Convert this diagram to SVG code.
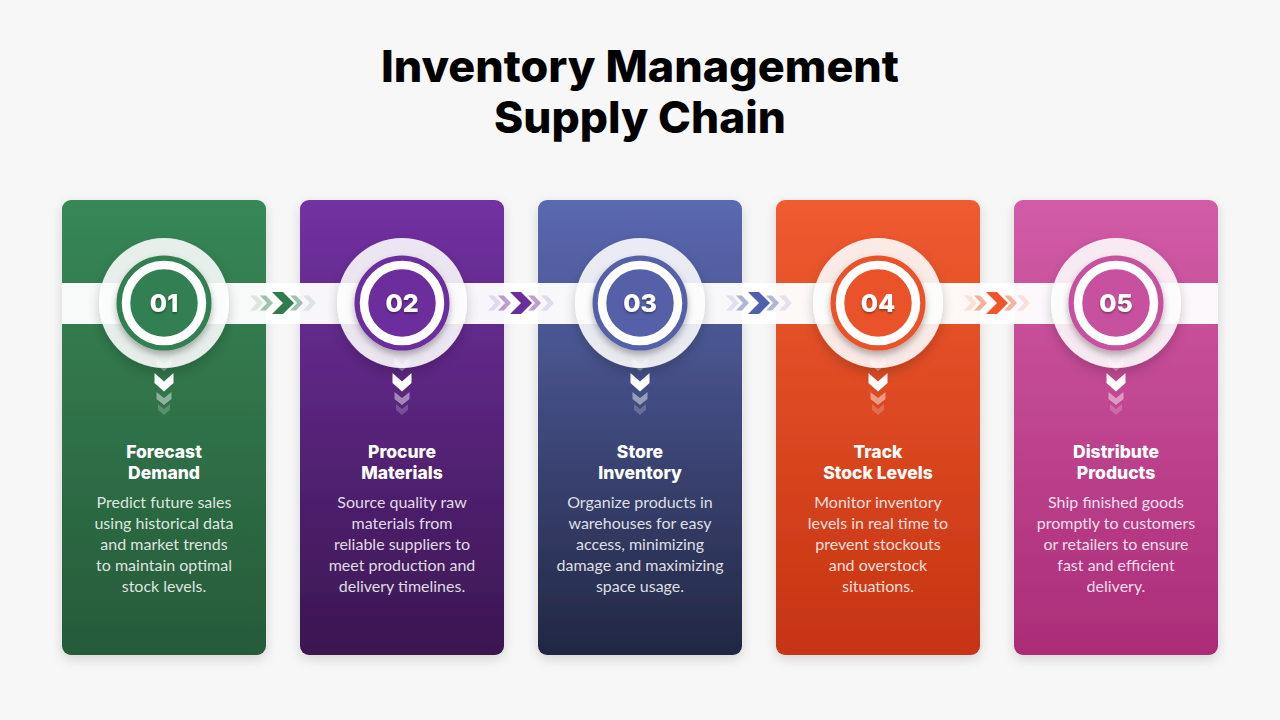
<svg xmlns="http://www.w3.org/2000/svg" xmlns:xlink="http://www.w3.org/1999/xlink" width="1280" height="720" viewBox="0 0 1280 720">
<defs>
<style>
.title{font-family:Inter,"Open Sans","Liberation Sans",sans-serif;font-weight:800;font-size:44px;fill:#000;text-anchor:middle}
.num{font-family:Inter,"Open Sans","Liberation Sans",sans-serif;font-weight:800;font-size:25px;fill:#fff;text-anchor:middle}
.head{font-family:Inter,"Open Sans","Liberation Sans",sans-serif;font-weight:800;font-size:17.5px;fill:#fff;text-anchor:middle}
.body{font-family:Lato,"Liberation Sans",sans-serif;font-size:16px;fill:#fff;fill-opacity:0.85;text-anchor:middle}
.band{fill:#fff;fill-opacity:0.96}
.outer{fill:#fff;fill-opacity:0.87}
.ring{fill:none;stroke:#fff;stroke-width:8.5}
</style>
<filter id="cardSh" x="-20%" y="-10%" width="140%" height="125%">
<feDropShadow dx="0" dy="4" stdDeviation="6" flood-color="#000" flood-opacity="0.14"/>
</filter>
<filter id="outSh" x="-30%" y="-30%" width="160%" height="170%">
<feDropShadow dx="0" dy="5" stdDeviation="6" flood-color="#000" flood-opacity="0.22"/>
</filter>
<filter id="inSh" x="-30%" y="-30%" width="160%" height="170%">
<feDropShadow dx="0" dy="4" stdDeviation="3.5" flood-color="#000" flood-opacity="0.3"/>
</filter>
<filter id="txtSh" x="-20%" y="-30%" width="140%" height="170%">
<feDropShadow dx="0" dy="1.5" stdDeviation="1" flood-color="#000" flood-opacity="0.4"/>
</filter>
<linearGradient id="g1" x1="0" y1="0" x2="0" y2="1"><stop offset="0" stop-color="#378757"/><stop offset="1" stop-color="#275a39"/></linearGradient>
<linearGradient id="g2" x1="0" y1="0" x2="0" y2="1"><stop offset="0" stop-color="#7231a2"/><stop offset="1" stop-color="#3a1650"/></linearGradient>
<linearGradient id="g3" x1="0" y1="0" x2="0" y2="1"><stop offset="0" stop-color="#5b69b2"/><stop offset="1" stop-color="#222743"/></linearGradient>
<linearGradient id="g4" x1="0" y1="0" x2="0" y2="1"><stop offset="0" stop-color="#f05b30"/><stop offset="1" stop-color="#c53412"/></linearGradient>
<linearGradient id="g5" x1="0" y1="0" x2="0" y2="1"><stop offset="0" stop-color="#d25ca7"/><stop offset="1" stop-color="#ab2c77"/></linearGradient>
<g id="hch">
<path d="M-33,-7.5 h6 l7,7.5 l-7,7.5 h-6 l7,-7.5z" fill-opacity="0.15"/>
<path d="M20,-7.5 h6 l7,7.5 l-7,7.5 h-6 l7,-7.5z" fill-opacity="0.15"/>
<path d="M-23,-7.5 h6 l7,7.5 l-7,7.5 h-6 l7,-7.5z" fill-opacity="0.45"/>
<path d="M7,-7.5 h6 l7,7.5 l-7,7.5 h-6 l7,-7.5z" fill-opacity="0.45"/>
<path d="M-11,-11 h11 l11,11 l-11,11 h-11 l11,-11z"/>
</g>
<g id="vch" fill="#fff">
<path d="M-7.5,358 l7.5,6 l7.5,-6 v7 l-7.5,6 l-7.5,-6z" fill-opacity="0.4"/>
<path d="M-9.5,373 l9.5,8.5 l9.5,-8.5 v10 l-9.5,8.5 l-9.5,-8.5z"/>
<path d="M-7.5,392 l7.5,6 l7.5,-6 v7 l-7.5,6 l-7.5,-6z" fill-opacity="0.45"/>
<path d="M-6,404 l6,5 l6,-5 v6 l-6,5 l-6,-5z" fill-opacity="0.2"/>
</g>
</defs>
<rect width="1280" height="720" fill="#f7f7f7"/>
<g id="title">
<text class="title" x="640" y="82" textLength="518" lengthAdjust="spacingAndGlyphs">Inventory Management</text>
<text class="title" x="640" y="133" textLength="292" lengthAdjust="spacingAndGlyphs">Supply Chain</text>
</g>
<g id="cards">
<rect x="62" y="200" width="204" height="455" rx="9" fill="url(#g1)" filter="url(#cardSh)"/>
<rect x="300" y="200" width="204" height="455" rx="9" fill="url(#g2)" filter="url(#cardSh)"/>
<rect x="538" y="200" width="204" height="455" rx="9" fill="url(#g3)" filter="url(#cardSh)"/>
<rect x="776" y="200" width="204" height="455" rx="9" fill="url(#g4)" filter="url(#cardSh)"/>
<rect x="1014" y="200" width="204" height="455" rx="9" fill="url(#g5)" filter="url(#cardSh)"/>
</g>
<g id="connectors">
<rect class="band" x="62" y="283" width="1156" height="41"/>
<use xlink:href="#hch" href="#hch" transform="translate(283,303)" fill="#2f7d4f"/>
<use xlink:href="#hch" href="#hch" transform="translate(521,303)" fill="#6a2d9c"/>
<use xlink:href="#hch" href="#hch" transform="translate(759,303)" fill="#5060ad"/>
<use xlink:href="#hch" href="#hch" transform="translate(997,303)" fill="#ee5528"/>
</g>
<g id="node1">
<use xlink:href="#vch" href="#vch" transform="translate(164,0)"/>
<circle class="outer" cx="164" cy="303" r="65" filter="url(#outSh)"/>
<circle cx="164" cy="303" r="47.5" fill="#327f52" filter="url(#inSh)"/>
<circle class="ring" cx="164" cy="303" r="38"/>
<text class="num" x="164" y="312" filter="url(#txtSh)">01</text>
<text class="head" x="164" y="458">Forecast</text>
<text class="head" x="164" y="479">Demand</text>
<text class="body" x="164" y="508">Predict future sales</text>
<text class="body" x="164" y="529">using historical data</text>
<text class="body" x="164" y="550">and market trends</text>
<text class="body" x="164" y="571">to maintain optimal</text>
<text class="body" x="164" y="592">stock levels.</text>
</g>
<g id="node2">
<use xlink:href="#vch" href="#vch" transform="translate(402,0)"/>
<circle class="outer" cx="402" cy="303" r="65" filter="url(#outSh)"/>
<circle cx="402" cy="303" r="47.5" fill="#6c2d9c" filter="url(#inSh)"/>
<circle class="ring" cx="402" cy="303" r="38"/>
<text class="num" x="402" y="312" filter="url(#txtSh)">02</text>
<text class="head" x="402" y="458">Procure</text>
<text class="head" x="402" y="479">Materials</text>
<text class="body" x="402" y="508">Source quality raw</text>
<text class="body" x="402" y="529">materials from</text>
<text class="body" x="402" y="550">reliable suppliers to</text>
<text class="body" x="402" y="571">meet production and</text>
<text class="body" x="402" y="592">delivery timelines.</text>
</g>
<g id="node3">
<use xlink:href="#vch" href="#vch" transform="translate(640,0)"/>
<circle class="outer" cx="640" cy="303" r="65" filter="url(#outSh)"/>
<circle cx="640" cy="303" r="47.5" fill="#5461a8" filter="url(#inSh)"/>
<circle class="ring" cx="640" cy="303" r="38"/>
<text class="num" x="640" y="312" filter="url(#txtSh)">03</text>
<text class="head" x="640" y="458">Store</text>
<text class="head" x="640" y="479">Inventory</text>
<text class="body" x="640" y="508">Organize products in</text>
<text class="body" x="640" y="529">warehouses for easy</text>
<text class="body" x="640" y="550">access, minimizing</text>
<text class="body" x="640" y="571">damage and maximizing</text>
<text class="body" x="640" y="592">space usage.</text>
</g>
<g id="node4">
<use xlink:href="#vch" href="#vch" transform="translate(878,0)"/>
<circle class="outer" cx="878" cy="303" r="65" filter="url(#outSh)"/>
<circle cx="878" cy="303" r="47.5" fill="#ea5229" filter="url(#inSh)"/>
<circle class="ring" cx="878" cy="303" r="38"/>
<text class="num" x="878" y="312" filter="url(#txtSh)">04</text>
<text class="head" x="878" y="458">Track</text>
<text class="head" x="878" y="479">Stock Levels</text>
<text class="body" x="878" y="508">Monitor inventory</text>
<text class="body" x="878" y="529">levels in real time to</text>
<text class="body" x="878" y="550">prevent stockouts</text>
<text class="body" x="878" y="571">and overstock</text>
<text class="body" x="878" y="592">situations.</text>
</g>
<g id="node5">
<use xlink:href="#vch" href="#vch" transform="translate(1116,0)"/>
<circle class="outer" cx="1116" cy="303" r="65" filter="url(#outSh)"/>
<circle cx="1116" cy="303" r="47.5" fill="#c7519e" filter="url(#inSh)"/>
<circle class="ring" cx="1116" cy="303" r="38"/>
<text class="num" x="1116" y="312" filter="url(#txtSh)">05</text>
<text class="head" x="1116" y="458">Distribute</text>
<text class="head" x="1116" y="479">Products</text>
<text class="body" x="1116" y="508">Ship finished goods</text>
<text class="body" x="1116" y="529">promptly to customers</text>
<text class="body" x="1116" y="550">or retailers to ensure</text>
<text class="body" x="1116" y="571">fast and efficient</text>
<text class="body" x="1116" y="592">delivery.</text>
</g>
</svg>
